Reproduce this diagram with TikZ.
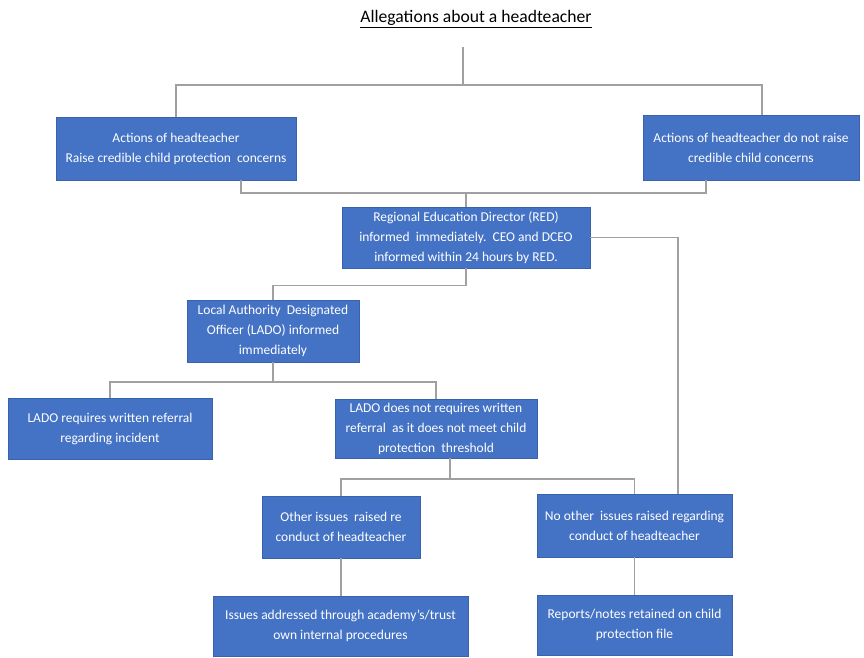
\documentclass[tikz,border=0pt]{standalone}
\usepackage{fontspec}
\setmainfont{Carlito}
\definecolor{boxblue}{HTML}{4472C4}
\definecolor{boxedge}{HTML}{3A62AC}
\definecolor{linegray}{HTML}{A0A0A0}
\begin{document}
\begin{tikzpicture}[x=1pt,y=-1pt,
  box/.style={draw=boxedge,line width=0.8pt,fill=boxblue,text=white,align=center,
    inner sep=2pt,font=\fontsize{13.5}{20}\selectfont},
  conn/.style={draw=linegray,line width=1.4pt}]
\useasboundingbox (0,0) rectangle (864,657);
\node[font=\fontsize{17.6}{20}\selectfont] (title) at (476,19) {\underline{Allegations about a headteacher}};
\node[box,minimum width=240,minimum height=63] (A) at (176,148.5) {Actions of headteacher\\Raise credible child protection\ \ concerns};
\node[box,minimum width=216,minimum height=65] (B) at (751,147.5) {Actions of headteacher do not raise\\credible child concerns};
\node[box,minimum width=248,minimum height=61] (RED) at (466,237.5) {Regional Education Director (RED)\\informed\ \ immediately.\ \ CEO and DCEO\\informed within 24 hours by RED.};
\node[box,minimum width=172,minimum height=62] (LADO) at (273,331) {Local Authority\ \ Designated\\Officer (LADO) informed\\immediately};
\node[box,minimum width=204,minimum height=61] (C) at (110,428.5) {LADO requires written referral\\regarding incident};
\node[box,minimum width=202,minimum height=59] (D) at (436,428.5) {LADO does not requires written\\referral\ \ as it does not meet child\\protection\ \ threshold};
\node[box,minimum width=158,minimum height=62] (E) at (341,527) {Other issues\ \ raised re\\conduct of headteacher};
\node[box,minimum width=195,minimum height=63] (F) at (634.5,525.5) {No other\ \ issues raised regarding\\conduct of headteacher};
\node[box,minimum width=255,minimum height=60] (G) at (340.5,626) {Issues addressed through academy's/trust\\own internal procedures};
\node[box,minimum width=195,minimum height=60] (H) at (634.5,625) {Reports/notes retained on child\\protection file};
% coordinates
\coordinate (t0) at (463,47);
\coordinate (s1) at (463,85);
\coordinate (s1r) at (762,85);
\coordinate (a1) at (241,180);
\coordinate (b1) at (706,180);
\coordinate (j2) at (466,193);
\coordinate (j3) at (273,382);
\coordinate (d1) at (450,458);
\coordinate (j4) at (450,479);
\coordinate (f1) at (678,494);
% connectors
\draw[conn] (t0) -- (s1);
\draw[conn] (s1) -| (A.north);
\draw[conn] (s1) -- (s1r) -- (s1r |- B.north);
\draw[conn] (a1) |- (j2) -| (b1);
\draw[conn] (j2) -- (RED.north);
\draw[conn] (RED.south) -- ++(0,17) -| (LADO.north);
\draw[conn] (RED.east) -| (f1);
\draw[conn] (LADO.south) -- (j3);
\draw[conn] (C.north) |- (j3) -| (D.north);
\draw[conn] (d1) -- (j4);
\draw[conn] (E.north) |- (j4) -| (F.north);
\draw[conn] (E.south) -- (E.south |- G.north);
\draw[conn] (F.south) -- (H.north);
\end{tikzpicture}
\end{document}
